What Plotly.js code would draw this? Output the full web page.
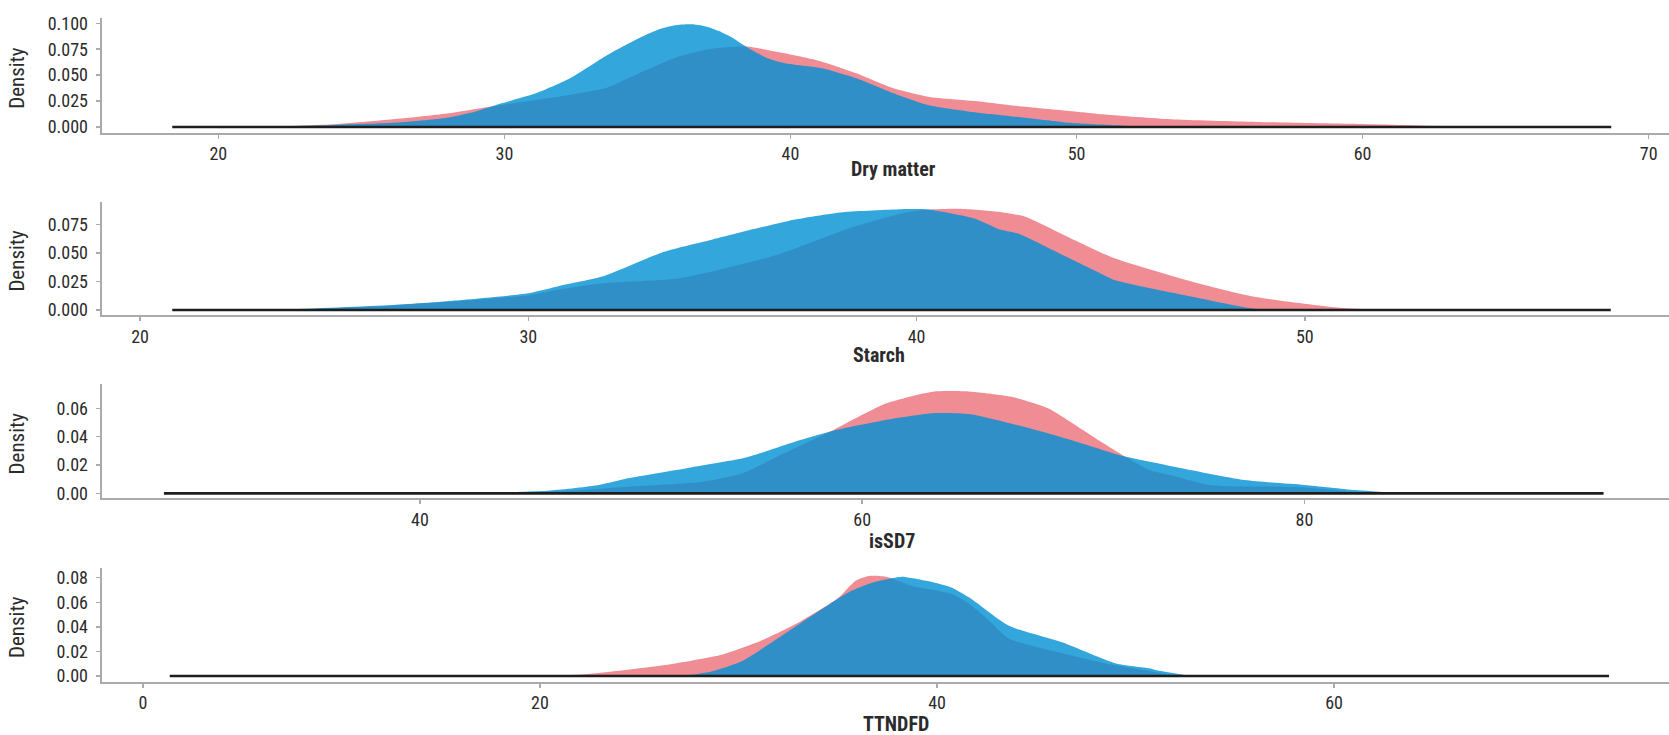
<!DOCTYPE html>
<html>
<head>
<meta charset="utf-8">
<script src="https://cdn.plot.ly/plotly-3.0.1.min.js"></script>
<style>html,body{margin:0;padding:0;background:#fff}#chart{width:1669px;height:735px}</style>
</head>
<body>
<div id="chart"></div>
<script>
// ---------- data ----------
const panelTitles = ["Dry matter", "Starch", "isSD7", "TTNDFD"];

// Dry matter
const dmPinkX = [20.5, 22.0, 24.2, 26.1, 28.0, 29.6, 31.1, 32.3, 33.6, 34.8, 36.1, 37.3, 38.45, 39.8, 41.1, 42.3, 43.6, 44.8, 46.7, 48.0, 49.4, 51.0, 53.3, 56.3, 60.0, 63.5];
const dmPinkY = [0, 0.0006, 0.003, 0.0074, 0.013, 0.020, 0.026, 0.031, 0.038, 0.053, 0.068, 0.0758, 0.0776, 0.071, 0.063, 0.0518, 0.0373, 0.0292, 0.0244, 0.020, 0.0164, 0.012, 0.0074, 0.0048, 0.0028, 0.0003];
const dmBlueX = [21.0, 22.5, 24.0, 26.1, 28.0, 29.0, 29.9, 31.1, 32.3, 33.6, 34.8, 35.5, 36.1, 36.6, 37.1, 37.5, 38.0, 38.45, 39.2, 39.8, 41.1, 42.3, 43.6, 44.8, 46.7, 47.3, 49.4, 50.0, 51.8, 53.0];
const dmBlueY = [0, 0.0008, 0.002, 0.004, 0.009, 0.015, 0.0228, 0.0325, 0.047, 0.0694, 0.087, 0.0950, 0.0985, 0.0990, 0.0965, 0.0925, 0.0855, 0.0774, 0.0662, 0.0614, 0.0566, 0.047, 0.0325, 0.0212, 0.0132, 0.0116, 0.0051, 0.0035, 0.001, 0];

// Starch
const stPinkX = [21.5, 24.0, 26.5, 28.3, 30.0, 30.8, 31.9, 33.9, 36.4, 38.4, 39.7, 40.3, 41.1, 42.1, 42.8, 43.9, 45.1, 47.1, 48.7, 50.9, 52.0];
const stPinkY = [0, 0.0005, 0.004, 0.008, 0.013, 0.018, 0.0234, 0.0278, 0.0482, 0.073, 0.0852, 0.088, 0.0887, 0.086, 0.0817, 0.064, 0.0453, 0.0248, 0.0116, 0.002, 0];
const stBlueX = [22.0, 23.7, 26.5, 28.3, 30.0, 30.8, 31.9, 33.5, 34.7, 36.7, 38.1, 39.6, 40.3, 41.5, 42.1, 42.6, 43.5, 44.7, 45.1, 47.1, 48.7, 49.5];
const stBlueY = [0, 0.0005, 0.0044, 0.0088, 0.0146, 0.021, 0.0292, 0.051, 0.0613, 0.078, 0.0855, 0.0882, 0.088, 0.080, 0.071, 0.0671, 0.0525, 0.0327, 0.0263, 0.0116, 0.001, 0];

// isSD7
const sdPinkX = [44.0, 47.0, 49.4, 52.8, 54.6, 56.3, 58.7, 59.7, 61.1, 63.2, 64.9, 66.7, 68.4, 70.1, 70.8, 71.9, 73.0, 74.1, 75.7, 80.0, 83.0];
const sdPinkY = [0, 0.002, 0.0047, 0.0082, 0.0141, 0.027, 0.0447, 0.0529, 0.0635, 0.0717, 0.0717, 0.0682, 0.060, 0.0435, 0.0364, 0.0258, 0.0164, 0.0122, 0.0059, 0.0042, 0];
const sdBlueX = [42.5, 45.9, 48.1, 49.4, 52.0, 54.6, 55.6, 57.2, 58.7, 61.5, 63.2, 64.9, 68.4, 70.8, 71.8, 74.1, 77.3, 80.0, 82.3, 84.5];
const sdBlueY = [0, 0.002, 0.0059, 0.0106, 0.0176, 0.0247, 0.0294, 0.0376, 0.0442, 0.0529, 0.0565, 0.0558, 0.0423, 0.031, 0.0263, 0.0188, 0.0094, 0.0059, 0.0023, 0];

// TTNDFD
const ttPinkX = [20.5, 22.4, 26.3, 29.2, 31.1, 33.1, 35.0, 35.9, 36.5, 36.9, 37.5, 38.8, 39.8, 40.8, 41.7, 42.7, 43.6, 46.3, 48.5, 50.7, 52.0];
const ttPinkY = [0, 0.0016, 0.009, 0.0176, 0.0285, 0.0442, 0.0632, 0.0775, 0.0812, 0.0816, 0.0806, 0.073, 0.070, 0.0665, 0.0578, 0.044, 0.0306, 0.0185, 0.0103, 0.0041, 0];
const ttBlueX = [26.0, 27.3, 28.6, 30.2, 32.1, 34.0, 35.6, 36.9, 38.25, 38.8, 39.8, 40.75, 41.7, 43.6, 46.3, 49.0, 50.7, 51.0, 52.8];
const ttBlueY = [0, 0.0005, 0.0035, 0.0122, 0.032, 0.0523, 0.0686, 0.0767, 0.0808, 0.0795, 0.0762, 0.0718, 0.063, 0.041, 0.0274, 0.0103, 0.0063, 0.0049, 0];

// baseline (data range) per panel
const baseStart = [18.39, 20.83, 28.42, 1.35];
const baseEnd   = [68.69, 57.88, 93.53, 73.85];

// axis ranges and ticks
const xRanges = [[15.92, 70.71], [19.01, 59.38], [25.60, 96.49], [-2.08, 76.87]];
const yRanges = [[-0.0055, 0.1048], [-0.0044, 0.0948], [-0.0035, 0.0771], [-0.0046, 0.0881]];
const xDticks = [10, 10, 20, 20];
const yDticks = [0.025, 0.025, 0.02, 0.02];
const yFormats = [".3f", ".3f", ".2f", ".2f"];

// ---------- build ----------
const pinkX = [dmPinkX, stPinkX, sdPinkX, ttPinkX];
const pinkY = [dmPinkY, stPinkY, sdPinkY, ttPinkY];
const blueX = [dmBlueX, stBlueX, sdBlueX, ttBlueX];
const blueY = [dmBlueY, stBlueY, sdBlueY, ttBlueY];

const FONT = "'Liberation Sans Narrow', 'Arial Narrow', 'Roboto Condensed', 'DejaVu Sans Condensed', sans-serif";
const AXC = "#AAAAAE";
const TXT = "#2b2b2b";
const W = 1669, H = 735;

// panel pixel geometry (top, bottom of plot area)
const panelTop = [18.3, 201.7, 384, 567.7];
const panelBot = [132.7, 315, 498.3, 681.7];
const titleY = [169, 355, 541, 724];
const titleX = [893, 879, 892, 896];
const xDomain = [101.6 / W, 1];

const traces = [];
const layout = {
  width: W, height: H,
  margin: {l: 0, r: 0, t: 0, b: 0},
  paper_bgcolor: "#fff", plot_bgcolor: "#fff",
  showlegend: false,
  font: {family: FONT, color: TXT, size: 18},
  annotations: []
};

for (let i = 0; i < 4; i++) {
  const s = i === 0 ? "" : String(i + 1);
  const xa = "x" + s, ya = "y" + s;
  traces.push({
    type: "scatter", mode: "none", x: pinkX[i], y: pinkY[i], xaxis: xa, yaxis: ya,
    fill: "tozeroy", fillcolor: "rgb(240,140,147)", line: {shape: "spline", smoothing: 0.6, width: 0},
    hoverinfo: "skip"
  });
  traces.push({
    type: "scatter", mode: "none", x: blueX[i], y: blueY[i], xaxis: xa, yaxis: ya,
    fill: "tozeroy", fillcolor: "rgba(0,144,211,0.8)", line: {shape: "spline", smoothing: 0.6, width: 0},
    hoverinfo: "skip"
  });
  traces.push({
    type: "scatter", mode: "lines", x: [baseStart[i], baseEnd[i]], y: [0, 0], xaxis: xa, yaxis: ya,
    line: {color: "#1e1e1e", width: 2.6}, hoverinfo: "skip"
  });

  const common = {
    showline: true, linecolor: AXC, linewidth: 2,
    ticks: "outside", ticklen: 4, tickwidth: 1.5, tickcolor: AXC,
    showgrid: false, zeroline: false, fixedrange: true,
    tickfont: {family: FONT, size: 18, color: TXT}
  };
  layout["xaxis" + s] = Object.assign({}, common, {
    domain: xDomain, anchor: ya, range: xRanges[i], tick0: 0, dtick: xDticks[i],
    ticklabelstandoff: 0
  });
  layout["yaxis" + s] = Object.assign({}, common, {
    domain: [1 - panelBot[i] / H, 1 - panelTop[i] / H], anchor: xa,
    range: yRanges[i], tick0: 0, dtick: yDticks[i], tickformat: yFormats[i],
    ticklabelstandoff: 4
  });

  layout.annotations.push({
    text: "Density", xref: "paper", yref: ya + " domain", x: 17 / W, y: 0.48,
    xanchor: "center", yanchor: "middle", textangle: -90, showarrow: false,
    font: {family: FONT, size: 21, color: TXT}
  });
  layout.annotations.push({
    text: panelTitles[i], xref: "paper", yref: "paper", x: titleX[i] / W, y: 1 - titleY[i] / H,
    xanchor: "center", yanchor: "middle", showarrow: false,
    font: {family: FONT, size: 20, color: TXT, weight: "bold"}
  });
}

Plotly.newPlot("chart", traces, layout, {staticPlot: true, displayModeBar: false});
</script>
</body>
</html>
